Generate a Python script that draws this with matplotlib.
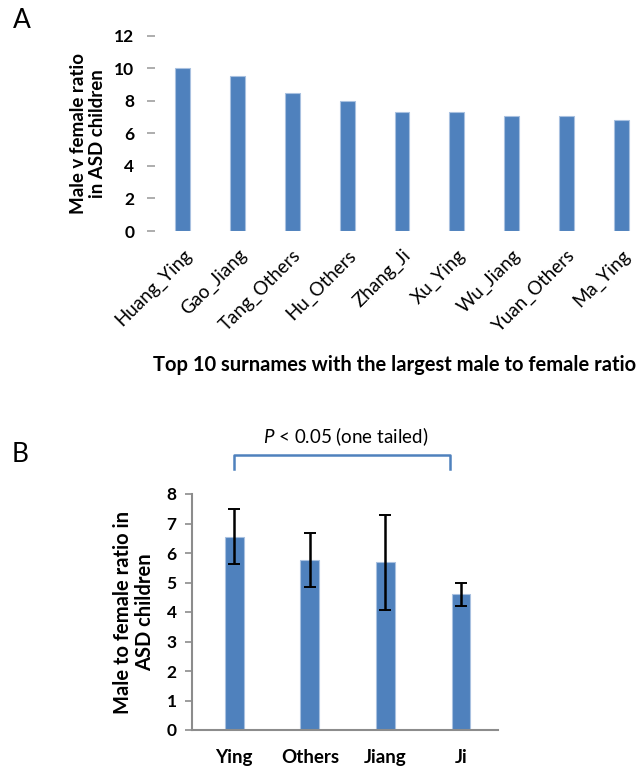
import matplotlib
matplotlib.use("Agg")
import matplotlib.pyplot as plt
import numpy as np

plt.rcParams["font.family"] = ["Lato", "DejaVu Sans"]
plt.rcParams["mathtext.fontset"] = "custom"
plt.rcParams["mathtext.it"] = "Lato:italic"
plt.rcParams["mathtext.rm"] = "Lato"

# panel A: top surname pairs
pairs = ["Huang_Ying", "Gao_Jiang", "Tang_Others", "Hu_Others", "Zhang_Ji",
         "Xu_Ying", "Wu_Jiang", "Yuan_Others", "Ma_Ying"]
pair_ratio = [10.0, 9.5, 8.5, 8.0, 7.33, 7.33, 7.05, 7.05, 6.82]
yticks_a = [0, 2, 4, 6, 8, 10, 12]

# panel B: mean ratio per group with error
groups = ["Ying", "Others", "Jiang", "Ji"]
group_ratio = [6.55, 5.77, 5.68, 4.6]
group_err = [0.93, 0.92, 1.6, 0.4]
yticks_b = [0, 1, 2, 3, 4, 5, 6, 7, 8]

BLUE = "#4F81BD"
EDGE = "#A9C1E0"
GREY = "#8C8C8C"

fig = plt.figure(figsize=(6.38, 7.70), dpi=100)

# ---------------- panel A ----------------
W, H = 638, 770
axA = fig.add_axes([155 / W, 1 - 231 / H, 483 / W, (231 - 35.7) / H])
xa = np.arange(len(pairs))
axA.bar(xa, pair_ratio, width=0.27, color=BLUE, edgecolor=EDGE, linewidth=0.8)
axA.set_xlim(-0.5, 8.3)
axA.set_ylim(0, 12)
for s in axA.spines.values():
    s.set_visible(False)
axA.set_yticks(yticks_a)
axA.set_yticklabels([str(v) for v in yticks_a], fontsize=12.5, fontweight="bold")
axA.tick_params(axis="y", length=6, width=1.2, color="#A0A0A0", pad=9, direction="out")
axA.set_xticks(xa)
axA.set_xticklabels(pairs, rotation=45, ha="right", rotation_mode="anchor", fontsize=13.5)
axA.tick_params(axis="x", length=0, pad=11)
axA.set_ylabel("Male v female ratio\nin ASD children", fontsize=13.5, fontweight="bold",
               labelpad=6, linespacing=1.15)
fig.text(395 / W, 1 - 365 / H, "Top 10 surnames with the largest male to female ratio",
         ha="center", va="center", fontsize=14.5, fontweight="bold")
fig.text(13 / W, 1 - 21 / H, "A", fontsize=19, ha="left", va="center")

# ---------------- panel B ----------------
axB = fig.add_axes([192 / W, 1 - 730 / H, 306 / W, (730 - 494) / H])
xb = np.arange(len(groups))
axB.bar(xb, group_ratio, width=0.25, color=BLUE, edgecolor=EDGE, linewidth=0.8)
axB.errorbar(xb, group_ratio, yerr=group_err, fmt="none", ecolor="black",
             elinewidth=1.8, capsize=4, capthick=1.4)
axB.set_xlim(-0.56, 3.49)
axB.set_ylim(0, 8)
axB.spines["top"].set_visible(False)
axB.spines["right"].set_visible(False)
for side in ("left", "bottom"):
    axB.spines[side].set_color(GREY)
    axB.spines[side].set_linewidth(1.5)
axB.set_yticks(yticks_b)
axB.set_yticklabels([str(v) for v in yticks_b], fontsize=12.5, fontweight="bold")
axB.tick_params(axis="y", length=5, width=1.2, color=GREY, pad=6)
axB.set_xticks(xb)
axB.set_xticklabels(groups, fontsize=13.5, fontweight="bold")
axB.tick_params(axis="x", length=0, pad=14)
axB.set_ylabel("Male to female ratio in\nASD children", fontsize=14.5, fontweight="bold",
               labelpad=8, linespacing=1.15)

# significance bracket Ying -> Ji
bx0, bx1 = xb[0], xb[3] - 0.15
by_top, by_bot = 9.32, 8.85
axB.plot([bx0, bx0, bx1, bx1], [by_bot, by_top, by_top, by_bot], color=BLUE,
         lw=1.8, clip_on=False)
axB.text((bx0 + bx1) / 2 + 0.05, 9.95, r"$P$ < 0.05 (one tailed)", ha="center", va="center",
         fontsize=13.5)
fig.text(12 / W, 1 - 455 / H, "B", fontsize=19, ha="left", va="center")

fig.savefig("out.png", dpi=100)
